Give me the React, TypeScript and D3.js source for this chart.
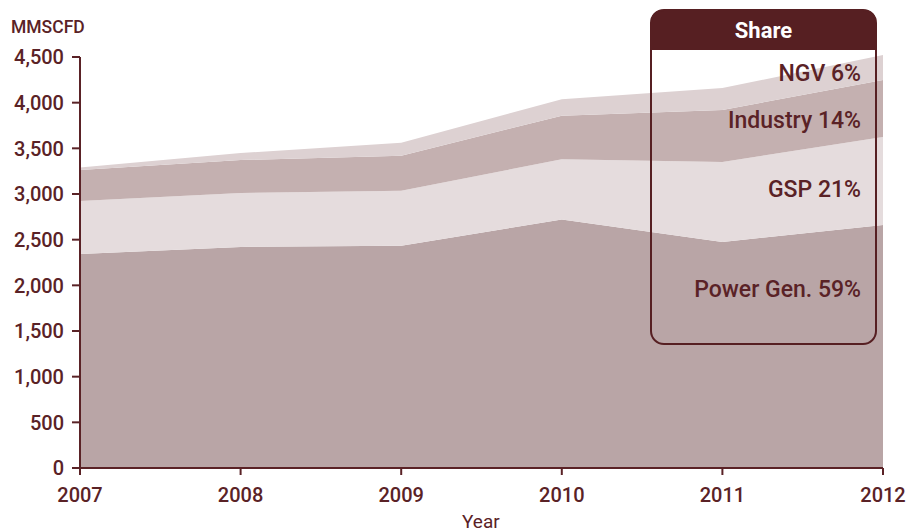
import React from "react";
import * as d3 from "d3";

const years = [2007, 2008, 2009, 2010, 2011, 2012];
const powerGen = [2343, 2420, 2434, 2720, 2475, 2660];
const gsp = [580, 591, 602, 660, 875, 964];
const industry = [340, 361, 384, 477, 570, 624];
const ngv = [27, 77, 142, 180, 240, 274];
const seriesKeys = ["powerGen", "gsp", "industry", "ngv"];
const seriesColors = ["#b9a5a6", "#e5dcdd", "#c4b0b0", "#ddd1d2"];
const shareLabels = ["Power Gen. 59%", "GSP 21%", "Industry 14%", "NGV 6%"];
const yTicks = [0, 500, 1000, 1500, 2000, 2500, 3000, 3500, 4000, 4500];

const W = 907;
const H = 532;
const M = { left: 80, right: 24, top: 57, bottom: 64 };
const DARK = "#5a2226";
const FONT = "Roboto, 'DejaVu Sans', sans-serif";

export default function App() {
  const x = d3.scaleLinear().domain([2007, 2012]).range([M.left, W - M.right]);
  const y = d3.scaleLinear().domain([0, 4500]).range([H - M.bottom, M.top]);

  const table = years.map((yr, i) => ({
    year: yr,
    powerGen: powerGen[i],
    gsp: gsp[i],
    industry: industry[i],
    ngv: ngv[i],
  }));
  const stacked = d3.stack<any>().keys(seriesKeys)(table);
  const area = d3
    .area<any>()
    .x((d) => x(d.data.year))
    .y0((d) => y(d[0]))
    .y1((d) => y(d[1]));

  const fmt = d3.format(",");
  const labelYs = [297, 197, 128, 81];
  const boxX = 651;
  const boxY = 10;
  const boxW = 225;
  const boxH = 334;
  const hdrH = 40;
  const r = 13;

  const headerPath = `M${boxX},${boxY + hdrH} V${boxY + r} Q${boxX},${boxY} ${boxX + r},${boxY} H${boxX + boxW - r} Q${boxX + boxW},${boxY} ${boxX + boxW},${boxY + r} V${boxY + hdrH} Z`;

  return (
    <svg
      width={W}
      height={H}
      style={{ position: "absolute", left: 0, top: 0 }}
      fontFamily={FONT}
      fontWeight={500}
    >
      <rect width={W} height={H} fill="#ffffff" />
      {stacked.map((s, i) => (
        <path key={s.key} d={area(s) || ""} fill={seriesColors[i]} />
      ))}
      {/* y axis */}
      <line x1={x(2007)} x2={x(2007)} y1={y(4500)} y2={y(0)} stroke={DARK} strokeWidth={2} />
      {yTicks.map((t) => (
        <g key={t}>
          <line x1={x(2007) - 8} x2={x(2007)} y1={y(t)} y2={y(t)} stroke={DARK} strokeWidth={2} />
          <text
            x={x(2007) - 16}
            y={y(t)}
            dy="0.36em"
            textAnchor="end"
            fontSize={20}
            fill={DARK}
          >
            {fmt(t)}
          </text>
        </g>
      ))}
      {/* x axis */}
      <line x1={x(2007)} x2={x(2012)} y1={y(0)} y2={y(0)} stroke={DARK} strokeWidth={2} />
      {years.map((yr) => (
        <g key={yr}>
          <line x1={x(yr)} x2={x(yr)} y1={y(0)} y2={y(0) + 7} stroke={DARK} strokeWidth={2} />
          <text x={x(yr)} y={502} textAnchor="middle" fontSize={20} fill={DARK}>
            {yr}
          </text>
        </g>
      ))}
      <text x={462} y={528} fontSize={19} fontWeight={400} fill={DARK}>
        Year
      </text>
      <text x={11} y={33} fontSize={17.5} fill={DARK}>
        MMSCFD
      </text>
      {/* share box */}
      <path d={headerPath} fill="#561f22" />
      <rect
        x={boxX}
        y={boxY}
        width={boxW}
        height={boxH}
        rx={r}
        ry={r}
        fill="none"
        stroke="#561f22"
        strokeWidth={2}
      />
      <text
        x={boxX + boxW / 2}
        y={38}
        textAnchor="middle"
        fontSize={22}
        fontWeight={700}
        fill="#ffffff"
      >
        Share
      </text>
      {shareLabels.map((lab, i) => (
        <text key={lab} x={861} y={labelYs[i]} textAnchor="end" fontSize={23} fill={DARK}>
          {lab}
        </text>
      ))}
    </svg>
  );
}
